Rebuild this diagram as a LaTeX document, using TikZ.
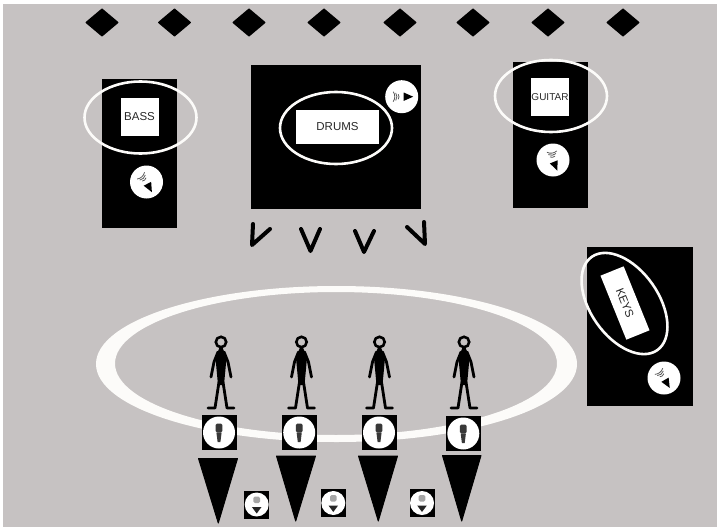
\documentclass[tikz,border=0pt]{standalone}
\usepackage{fontspec}
\setmainfont{Liberation Sans}
\usetikzlibrary{shapes.geometric}
\definecolor{stagebg}{RGB}{198,194,194}
\definecolor{ringwhite}{RGB}{252,251,249}
\definecolor{lab}{RGB}{40,40,40}
\tikzset{
  riser/.style={fill=black,draw=none},
  ring/.style={draw=ringwhite,line width=2.6pt,fill=none,ellipse,inner sep=0pt},
  instr/.style={fill=white,draw=none,inner sep=0pt,text=lab,font=\fontsize{11.5}{11.5}\selectfont},
  dia/.style={fill=black,draw=black,line width=1.5pt,line join=round,diamond,minimum width=32pt,minimum height=27pt,inner sep=0pt},
  disc/.style={circle,fill=white,draw=none,inner sep=0pt,minimum size=33pt},
  vmark/.style={draw=black,line width=4pt,line cap=round,line join=round},
  wedge/.style={fill=black,draw=black,line width=1pt,line join=round},
}
% amp icon: #3 = direction the waves travel from, #4 = direction of the horn
\newcommand{\ampicon}[4]{%
  \begin{scope}[shift={(#1,#2)}]
    \begin{scope}[rotate=#4]
      \fill[black] (11.5,0) -- (2,-4.2) -- (2,4.2) -- cycle;
    \end{scope}
    \begin{scope}[rotate=#3]
      \draw[black!65,line width=.8pt] (-3.5,-2.5) arc[start angle=-35,end angle=35,radius=4.4];
      \draw[black!65,line width=.8pt] (-6,-3.8) arc[start angle=-35,end angle=35,radius=6.6];
      \draw[black!65,line width=.8pt] (-8.5,-5) arc[start angle=-35,end angle=35,radius=8.7];
    \end{scope}
  \end{scope}}
% person figure, feet at y=0 relative
\newcommand{\personfig}[2]{%
  \begin{scope}[shift={(#1,#2)}]
    \draw[black,line width=2.6pt] (0,-66) circle[radius=5.2];
    \fill[black] (-1.7,-60) -- (1.7,-60) -- (5.5,-50) -- (3,-23) -- (-3,-23) -- (-5.5,-50) -- cycle;
    \draw[black,line width=2.8pt,line join=round,line cap=round] (-3,-56) -- (-7,-46) -- (-10,-31);
    \draw[black,line width=2.8pt,line join=round,line cap=round] (3,-56) -- (7,-46) -- (10,-31);
    \draw[black,line width=2.8pt,line join=round,line cap=round] (-13,0) -- (-6,0) -- (-2,-26);
    \draw[black,line width=2.8pt,line join=round,line cap=round] (13,0) -- (6,0) -- (2,-26);
  \end{scope}}
% vocal microphone in a square box
\newcommand{\micbox}[2]{%
  \begin{scope}[shift={(#1,#2)}]
    \fill[black] (-17.5,-17.5) rectangle (17.5,17.5);
    \fill[white] (0,0) circle[radius=16];
    \fill[black!78,rounded corners=1.5pt] (-3.4,-9) rectangle (3.4,0);
    \fill[black!78] (-2.6,0) -- (2.6,0) -- (1.4,9.5) -- (-1.4,9.5) -- cycle;
  \end{scope}}
% small box: head above, dark cone below
\newcommand{\smallbox}[2]{%
  \begin{scope}[shift={(#1,#2)}]
    \fill[black] (-12.5,-14) rectangle (12.5,14);
    \fill[white] (0,0) circle[radius=12];
    \fill[black!35,rounded corners=1.5pt] (-3.3,-8) rectangle (3.3,-1.5);
    \fill[black!85] (-4.8,2.5) -- (4.8,2.5) -- (0,9) -- cycle;
  \end{scope}}
\begin{document}
\begin{tikzpicture}[x=1pt,y=-1pt]
\useasboundingbox (0,0) rectangle (717,527);
\fill[white] (0,0) rectangle (717,527);
\fill[stagebg] (3,4) rectangle (717,527);

% diamonds
\foreach \n/\x in {1/102,2/174.5,3/249,4/324,5/400,6/473,7/548,8/623}
  \node[dia] (d\n) at (\x,22.5) {};

% risers
\fill[riser] (102,79) rectangle (177,228);
\fill[riser] (251,65) rectangle (421,209);
\fill[riser] (513,62) rectangle (588,208);
\fill[riser] (587,247) rectangle (693,406);

% instruments
\node[instr,minimum width=38pt,minimum height=38pt] (bass) at (139.5,117) {BASS};
\node[instr,minimum width=83pt,minimum height=34pt] (drums) at (337.5,127) {DRUMS};
\node[instr,minimum width=38pt,minimum height=38pt,font=\fontsize{10}{10}\selectfont] (guitar) at (550,97) {GUITAR};
\node[instr,minimum width=69pt,minimum height=25pt,rotate=-68] (keys) at (625,303) {KEYS};

% rings
\node[ring,minimum width=112pt,minimum height=72pt] (rb) at (140.5,117.5) {};
\node[ring,minimum width=112pt,minimum height=72pt] (rd) at (336,128) {};
\node[ring,minimum width=112pt,minimum height=72pt] (rg) at (551,96) {};
\node[ring,minimum width=114pt,minimum height=68pt,rotate=-55] (rk) at (624.5,303.5) {};

% amps
\node[disc] (a1) at (146.5,182) {};
\ampicon{146.5}{182}{-48}{-62}
\node[disc] (a2) at (401.7,96.7) {};
\ampicon{401.7}{96.7}{0}{0}
\node[disc] (a3) at (553,160) {};
\ampicon{553}{160}{-82}{-68}
\node[disc] (a4) at (664,378) {};
\ampicon{664}{378}{-52}{-60}

% drum mics
\draw[vmark] (253,224) -- (252,245) -- (270,229);
\draw[vmark] (301,229) -- (310.5,251) -- (320,229);
\draw[vmark] (355,231) -- (364,252) -- (374,231);
\draw[vmark] (407,227) -- (425,244) -- (424,222);

% monitor ring
\fill[ringwhite,even odd rule] (336.5,364) ellipse[x radius=240.5,y radius=78]
  (336,363.5) ellipse[x radius=221,y radius=71.5];

% people
\personfig{221}{408}
\personfig{301.5}{408}
\personfig{379.5}{408}
\personfig{464}{408}

% vocal mics
\micbox{219}{432.5}
\micbox{299.2}{432.5}
\micbox{379}{432.5}
\micbox{463.3}{433.5}

% monitors
\fill[wedge] (198.5,458.5) -- (237.5,458.5) -- (218.3,523) -- cycle;
\fill[wedge] (276.5,456) -- (315.5,456) -- (295.7,521) -- cycle;
\fill[wedge] (358.5,456) -- (397.5,456) -- (378.3,521) -- cycle;
\fill[wedge] (442.5,455.5) -- (481,455.5) -- (461.7,521) -- cycle;

\smallbox{256.7}{504.5}
\smallbox{333.3}{503}
\smallbox{422}{503}
\end{tikzpicture}
\end{document}
